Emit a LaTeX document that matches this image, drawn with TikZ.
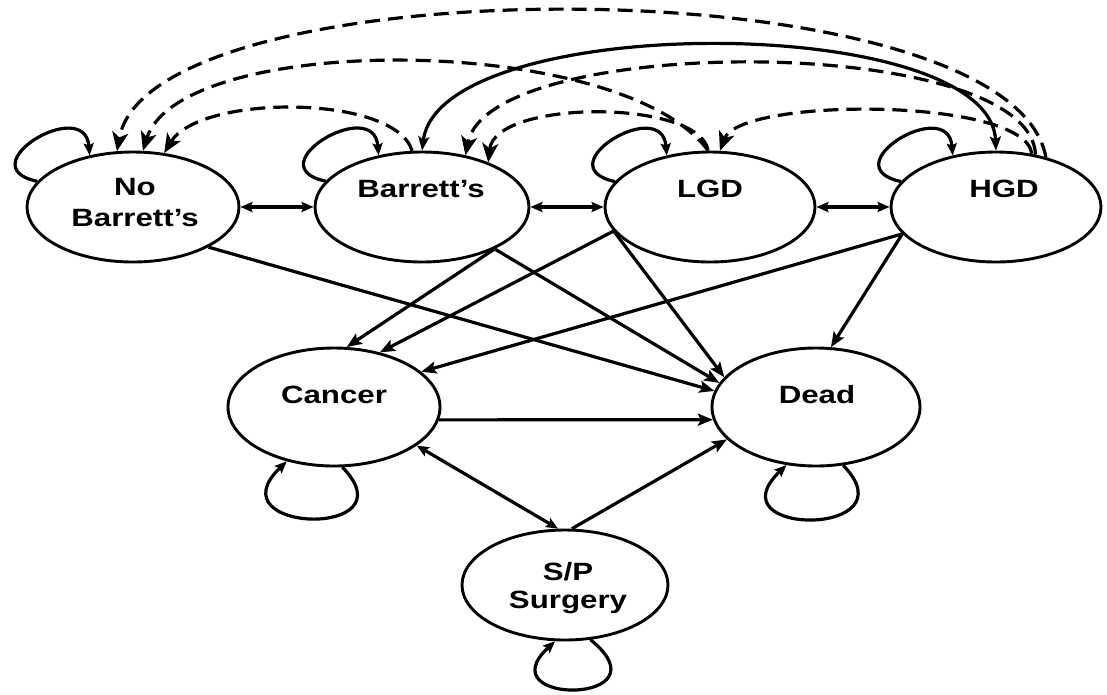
\documentclass[tikz,border=0pt]{standalone}
\usepackage{fontspec}
\setmainfont[FakeStretch=1.25]{Liberation Sans}
\usetikzlibrary{arrows.meta,calc,shapes.geometric}
\begin{document}
\begin{tikzpicture}[x=1pt,y=-1pt,
  st/.style 2 args={draw,ellipse,line width=2.9pt,inner sep=0pt,minimum width=#1pt,minimum height=#2pt},
  lbl/.style={font=\bfseries\fontsize{25}{30}\selectfont,inner sep=0pt,anchor=base},
  sarrow/.style={line width=3.2pt,-{Stealth[length=15pt,width=12pt,inset=3pt]}},
  darrow/.style={line width=3.2pt,dash pattern=on 15pt off 8pt,-{Stealth[length=19pt,width=16pt,inset=5pt]}},
  twoway/.style={line width=3.2pt,{Stealth[length=12pt,width=10pt,inset=2pt]}-{Stealth[length=12pt,width=10pt,inset=2pt]}},
  bigtwoway/.style={line width=3.2pt,{Stealth[length=14pt,width=11pt,inset=3pt]}-{Stealth[length=14pt,width=11pt,inset=3pt]}},
  loopst/.style={line width=3.2pt,-{Stealth[length=12pt,width=10pt,inset=2pt]}}]
\useasboundingbox (0,0) rectangle (1107,694);
% states
\node[st={212}{110}] (nob) at (133,207) {};
\node[st={214}{110}] (bar) at (422,207) {};
\node[st={210}{110}] (lgd) at (710,207) {};
\node[st={210}{110}] (hgd) at (996,207) {};
\node[st={212}{118}] (can) at (334,407) {};
\node[st={208}{118}] (dead) at (816,407) {};
\node[st={206}{110}] (sp) at (565,585) {};
% labels
\node[lbl] (nobA) at (135,195) {No};
\node[lbl] (nobB) at (135,226) {Barrett’s};
\node[lbl] (barA) at (421,197) {Barrett’s};
\node[lbl] (lgdA) at (710,197) {LGD};
\node[lbl] (hgdA) at (1004,197) {HGD};
\node[lbl] (canA) at (334,403) {Cancer};
\node[lbl] (deadA) at (817,403) {Dead};
\node[lbl] (spA) at (568,580) {S/P};
\node[lbl] (spB) at (568,608) {Surgery};
% top row two-way arrows
\draw[twoway] (nob.east) -- (bar.west);
\draw[twoway] (bar.east) -- (lgd.west);
\draw[twoway] (lgd.east) -- (hgd.west);
% top self loops
\foreach \n in {nob,bar,lgd,hgd}
  \draw[loopst] (\n.165) .. controls ($(\n.165)+(-70,-15)$) and ($(\n.130)+(-5,-60)$) .. (\n.130);
% bottom self loops
\draw[loopst] (can.-82) .. controls ($(can.-82)+(70,72)$) and ($(can.-131)+(-75,72)$) .. (can.-131);
\draw[loopst] (dead.-65) .. controls ($(dead.-65)+(70,72)$) and ($(dead.-117)+(-75,72)$) .. (dead.-117);
\draw[loopst] (sp.-65) .. controls ($(sp.-65)+(80,65)$) and ($(sp.-100)+(-70,65)$) .. (sp.-100);
% top arcs
\draw[darrow] (bar.100) .. controls (395,94) and (200,94) .. (nob.60);
\draw[darrow] (lgd.92) .. controls (620,32) and (180,32) .. (nob.80);
\draw[darrow] (hgd.45) .. controls (1010,-37) and (150,-37) .. (nob.106);
\draw[bigtwoway] (bar.90) .. controls (440,11) and (990,11) .. (hgd.90);
\draw[darrow] (hgd.53) .. controls (1030,33) and (490,33) .. (bar.50);
\draw[darrow] (lgd.92) .. controls (700,99) and (495,99) .. (bar.34);
\draw[darrow] (hgd.56) .. controls (1025,97) and (740,97) .. (lgd.80);
% diagonal transitions
\draw[sarrow] (nob.-28) -- (dead.171);
\draw[sarrow] (bar.-30) -- (can.78);
\draw[sarrow] (bar.-30) -- (dead.166);
\draw[sarrow] (lgd.-166) -- (can.50);
\draw[sarrow] (lgd.-166) -- (dead.162);
\draw[sarrow] (hgd.-164) -- (can.22);
\draw[sarrow] (hgd.-164) -- (dead.76);
\draw[sarrow] (can.-7) -- (dead.187);
\draw[twoway] (can.-25) -- (sp.97);
\draw[sarrow] (sp.83) -- (dead.200);
\end{tikzpicture}
\end{document}
